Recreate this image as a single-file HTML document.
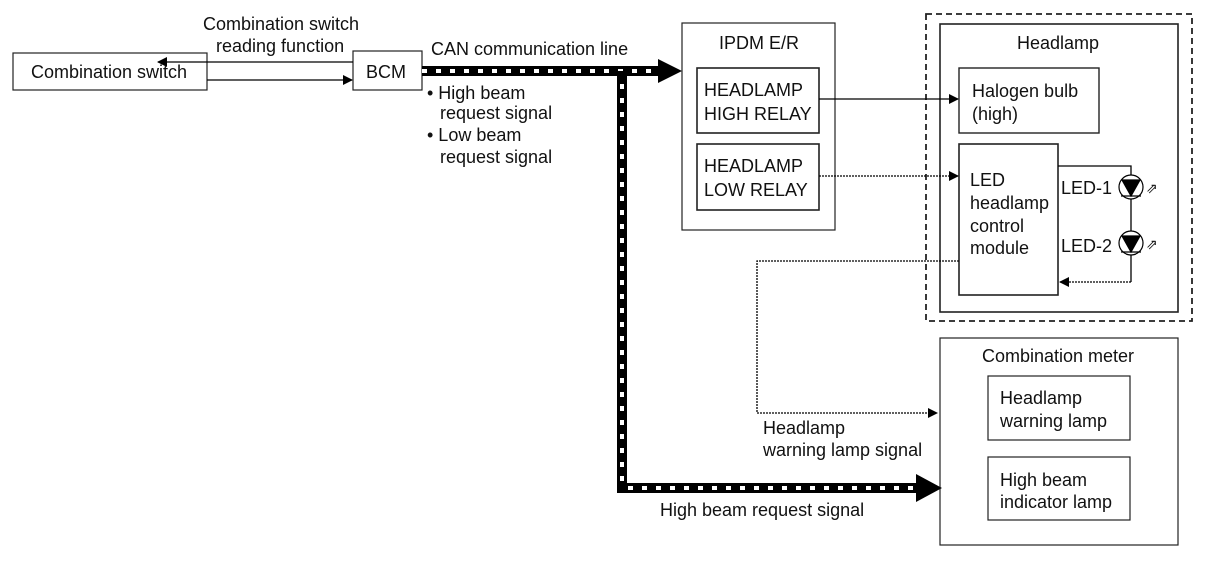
<!DOCTYPE html>
<html><head><meta charset="utf-8"><style>
html,body{margin:0;padding:0;background:#fff}
svg{display:block}
text{font-family:"Liberation Sans",Arial,sans-serif;font-size:18px;fill:#111}
</style></head><body>
<svg width="1216" height="582" viewBox="0 0 1216 582" xmlns="http://www.w3.org/2000/svg">
<defs>
<marker id="a" markerWidth="10" markerHeight="10" refX="9" refY="5" orient="auto" markerUnits="userSpaceOnUse"><path d="M0,0 L10,5 L0,10 z" fill="#000"/></marker>
</defs>
<g fill="none" stroke="#222" stroke-width="1.2">
<rect x="13" y="53" width="194" height="37"/>
<rect x="353" y="51" width="69" height="39"/>
<rect x="682" y="23" width="153" height="207"/>
<rect x="697" y="68" width="122" height="65" stroke-width="1.6"/>
<rect x="697" y="144" width="122" height="66" stroke-width="1.6"/>
<rect x="926" y="14" width="266" height="307" stroke-width="1.8" stroke-dasharray="6,4"/>
<rect x="940" y="24" width="238" height="288" stroke-width="1.6"/>
<rect x="959" y="68" width="140" height="65" stroke-width="1.4"/>
<rect x="959" y="144" width="99" height="151" stroke-width="1.6"/>
<rect x="940" y="338" width="238" height="207"/>
<rect x="988" y="376" width="142" height="64"/>
<rect x="988" y="457" width="142" height="63"/>
</g>
<g stroke="#000" stroke-width="1.3" fill="none">
<line x1="353" y1="62" x2="158" y2="62" marker-end="url(#a)"/>
<line x1="207" y1="80" x2="352" y2="80" marker-end="url(#a)"/>
<line x1="819" y1="99" x2="958" y2="99" marker-end="url(#a)"/>
<line x1="819" y1="176" x2="958" y2="176" stroke-dasharray="2,1" marker-end="url(#a)"/>
<polyline points="1058,166 1131,166 1131,282"/>
<line x1="1131" y1="282" x2="1060" y2="282" stroke-dasharray="2,1" marker-end="url(#a)"/>
<polyline points="959,261 757,261 757,413 937,413" stroke-dasharray="2,1" marker-end="url(#a)"/>
</g>
<g stroke="#000" stroke-width="1.2">
<circle cx="1131" cy="187" r="12" fill="#fff"/>
<path d="M1122,180 L1140,180 L1131,196 z" fill="#000"/>
<line x1="1121" y1="196" x2="1141" y2="196"/>
<circle cx="1131" cy="243" r="12" fill="#fff"/>
<path d="M1122,236 L1140,236 L1131,252 z" fill="#000"/>
<line x1="1121" y1="252" x2="1141" y2="252"/>
</g>
<text x="1146" y="193" style="font-size:14px">⇗</text>
<text x="1146" y="249" style="font-size:14px">⇗</text>
<g>
<path d="M422,71 L668,71" stroke="#000" stroke-width="10"/>
<path d="M422,71 L660,71" stroke="#fff" stroke-width="4" stroke-dasharray="5,9"/>
<path d="M658,59 L682,71 L658,83 z" fill="#000"/>
<path d="M622,71 L622,488 L920,488" stroke="#000" stroke-width="10" fill="none"/>
<path d="M622,84 L622,484" stroke="#fff" stroke-width="4" stroke-dasharray="5,9"/>
<path d="M628,488 L915,488" stroke="#fff" stroke-width="4" stroke-dasharray="5,9"/>
<path d="M916,474 L942,488 L916,502 z" fill="#000"/>
</g>
<text x="31" y="78">Combination switch</text>
<text x="203" y="30">Combination switch</text>
<text x="216" y="52">reading function</text>
<text x="366" y="78">BCM</text>
<text x="431" y="55">CAN communication line</text>
<text x="427" y="99">• High beam</text>
<text x="440" y="119">request signal</text>
<text x="427" y="141">• Low beam</text>
<text x="440" y="163">request signal</text>
<text x="759" y="49" text-anchor="middle">IPDM E/R</text>
<text x="704" y="96">HEADLAMP</text>
<text x="704" y="120">HIGH RELAY</text>
<text x="704" y="172">HEADLAMP</text>
<text x="704" y="196">LOW RELAY</text>
<text x="1058" y="49" text-anchor="middle">Headlamp</text>
<text x="972" y="97">Halogen bulb</text>
<text x="972" y="120">(high)</text>
<text x="970" y="186">LED</text>
<text x="970" y="209">headlamp</text>
<text x="970" y="232">control</text>
<text x="970" y="254">module</text>
<text x="1061" y="194">LED-1</text>
<text x="1061" y="252">LED-2</text>
<text x="1058" y="362" text-anchor="middle">Combination meter</text>
<text x="1000" y="404">Headlamp</text>
<text x="1000" y="427">warning lamp</text>
<text x="1000" y="486">High beam</text>
<text x="1000" y="508">indicator lamp</text>
<text x="763" y="434">Headlamp</text>
<text x="763" y="456">warning lamp signal</text>
<text x="660" y="516">High beam request signal</text>
</svg>
</body></html>
